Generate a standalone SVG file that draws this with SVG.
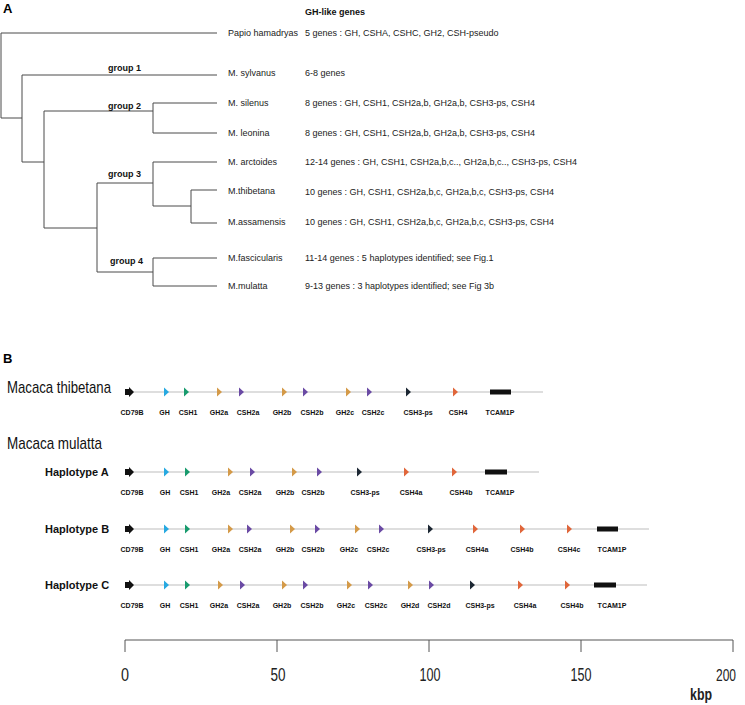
<svg xmlns="http://www.w3.org/2000/svg" xmlns:xlink="http://www.w3.org/1999/xlink" width="745" height="705" viewBox="0 0 745 705">
<style>
.tree{fill:none;stroke:#4a4a4a;stroke-width:1}
.sp{font-family:"Liberation Sans",Arial,sans-serif;font-size:9px;fill:#222}
.grp{font-family:"Liberation Sans",Arial,sans-serif;font-size:9px;font-weight:bold;fill:#111}
.panel{font-family:"Liberation Sans",Arial,sans-serif;font-size:13px;font-weight:bold;fill:#000}
.big{font-family:"Liberation Sans",Arial,sans-serif;font-size:17px;fill:#111}
.hap{font-family:"Liberation Sans",Arial,sans-serif;font-size:11px;font-weight:bold;fill:#111}
.gl{font-family:"Liberation Sans",Arial,sans-serif;font-size:7px;font-weight:bold;fill:#111;text-anchor:middle}
.trk{stroke:#bdbdbd;stroke-width:1}
.ax{stroke:#555;stroke-width:1;fill:none}
.num{font-family:"Liberation Sans",Arial,sans-serif;font-size:18px;fill:#222;text-anchor:middle}
.gh{fill:#27a9e1}.csh1{fill:#189b6e}.gh2{fill:#d49a48}.csh2{fill:#6a4aa4}.csh3{fill:#1c2733}.csh4{fill:#e0663a}.blk{fill:#111}
</style>
<defs>
<path id="tri" d="M0,-4.5 L5,0 L0,4.5 Z"/>
<path id="cd" d="M0,-3 H4 V-5 L9,0 L4,5 V3 H0 Z"/>
</defs>

<!-- Panel A -->
<text class="panel" x="3" y="13">A</text>
<text class="grp" x="305" y="15">GH-like genes</text>
<g id="tree" class="tree">
<path d="M1,33 V118 M1,33 H217 M1,118 H22"/>
<path d="M22,75 V162 M22,75 H217 M22,162 H44"/>
<path d="M44,111 V228 M44,111 H153 M153,103 V133 M153,103 H217 M153,133 H217"/>
<path d="M44,228 H97 M97,183 V272 M97,183 H153 M153,162 V206 M153,162 H217 M153,206 H191 M191,190 V223 M191,190 H217 M191,223 H217"/>
<path d="M97,272 H153 M153,258 V286 M153,258 H217 M153,286 H217"/>
</g>
<g id="groups">
<text class="grp" x="108" y="71">group 1</text>
<text class="grp" x="108" y="109">group 2</text>
<text class="grp" x="108" y="177">group 3</text>
<text class="grp" x="110" y="264">group 4</text>
</g>
<g id="taxa">
<text class="sp" x="228" y="36">Papio hamadryas</text>
<text class="sp" x="228" y="76">M. sylvanus</text>
<text class="sp" x="228" y="106">M. silenus</text>
<text class="sp" x="228" y="136">M. leonina</text>
<text class="sp" x="228" y="165">M. arctoides</text>
<text class="sp" x="228" y="194">M.thibetana</text>
<text class="sp" x="228" y="225">M.assamensis</text>
<text class="sp" x="228" y="261">M.fascicularis</text>
<text class="sp" x="228" y="289">M.mulatta</text>
</g>
<g id="genes">
<text class="sp" x="305" y="36">5 genes : GH, CSHA, CSHC, GH2, CSH-pseudo</text>
<text class="sp" x="305" y="76">6-8 genes</text>
<text class="sp" x="305" y="106">8 genes : GH, CSH1, CSH2a,b, GH2a,b, CSH3-ps, CSH4</text>
<text class="sp" x="305" y="136">8 genes : GH, CSH1, CSH2a,b, GH2a,b, CSH3-ps, CSH4</text>
<text class="sp" x="305" y="165">12-14 genes : GH, CSH1, CSH2a,b,c.., GH2a,b,c.., CSH3-ps, CSH4</text>
<text class="sp" x="305" y="195">10 genes : GH, CSH1, CSH2a,b,c, GH2a,b,c, CSH3-ps, CSH4</text>
<text class="sp" x="305" y="225">10 genes : GH, CSH1, CSH2a,b,c, GH2a,b,c, CSH3-ps, CSH4</text>
<text class="sp" x="305" y="261">11-14 genes : 5 haplotypes identified; see Fig.1</text>
<text class="sp" x="305" y="289">9-13 genes : 3 haplotypes identified; see Fig 3b</text>
</g>

<!-- Panel B -->
<text class="panel" x="3" y="363">B</text>
<text class="big" x="7" y="393" textLength="104" lengthAdjust="spacingAndGlyphs">Macaca thibetana</text>
<text class="big" x="7" y="449" textLength="95" lengthAdjust="spacingAndGlyphs">Macaca mulatta</text>

<g id="track-thibetana">
<line class="trk" x1="125" y1="392" x2="543" y2="392"/>
<use href="#cd" x="125" y="392" class="blk"/>
<use href="#tri" x="164" y="392" class="gh"/>
<use href="#tri" x="184" y="392" class="csh1"/>
<use href="#tri" x="217" y="392" class="gh2"/>
<use href="#tri" x="239" y="392" class="csh2"/>
<use href="#tri" x="282" y="392" class="gh2"/>
<use href="#tri" x="303" y="392" class="csh2"/>
<use href="#tri" x="346" y="392" class="gh2"/>
<use href="#tri" x="367" y="392" class="csh2"/>
<use href="#tri" x="406" y="392" class="csh3"/>
<use href="#tri" x="453" y="392" class="csh4"/>
<rect x="490" y="389.5" width="21" height="5" class="blk"/>
<text class="gl" x="132" y="414.5">CD79B</text>
<text class="gl" x="164.5" y="414.5">GH</text>
<text class="gl" x="188" y="414.5">CSH1</text>
<text class="gl" x="219" y="414.5">GH2a</text>
<text class="gl" x="248" y="414.5">CSH2a</text>
<text class="gl" x="282" y="414.5">GH2b</text>
<text class="gl" x="312" y="414.5">CSH2b</text>
<text class="gl" x="345" y="414.5">GH2c</text>
<text class="gl" x="373" y="414.5">CSH2c</text>
<text class="gl" x="418" y="414.5">CSH3-ps</text>
<text class="gl" x="458" y="414.5">CSH4</text>
<text class="gl" x="500" y="414.5">TCAM1P</text>
</g>

<g id="track-hapA">
<text class="hap" x="45" y="476">Haplotype A</text>
<line class="trk" x1="125" y1="472" x2="539" y2="472"/>
<use href="#cd" x="125" y="472" class="blk"/>
<use href="#tri" x="164" y="472" class="gh"/>
<use href="#tri" x="185" y="472" class="csh1"/>
<use href="#tri" x="228" y="472" class="gh2"/>
<use href="#tri" x="250" y="472" class="csh2"/>
<use href="#tri" x="292" y="472" class="gh2"/>
<use href="#tri" x="317" y="472" class="csh2"/>
<use href="#tri" x="357" y="472" class="csh3"/>
<use href="#tri" x="404" y="472" class="csh4"/>
<use href="#tri" x="452" y="472" class="csh4"/>
<rect x="485" y="469.5" width="22" height="5" class="blk"/>
<text class="gl" x="132" y="494.5">CD79B</text>
<text class="gl" x="165" y="494.5">GH</text>
<text class="gl" x="189" y="494.5">CSH1</text>
<text class="gl" x="221" y="494.5">GH2a</text>
<text class="gl" x="250" y="494.5">CSH2a</text>
<text class="gl" x="285" y="494.5">GH2b</text>
<text class="gl" x="313" y="494.5">CSH2b</text>
<text class="gl" x="365" y="494.5">CSH3-ps</text>
<text class="gl" x="411" y="494.5">CSH4a</text>
<text class="gl" x="461" y="494.5">CSH4b</text>
<text class="gl" x="500" y="494.5">TCAM1P</text>
</g>

<g id="track-hapB">
<text class="hap" x="45" y="533">Haplotype B</text>
<line class="trk" x1="125" y1="529" x2="649" y2="529"/>
<use href="#cd" x="125" y="529" class="blk"/>
<use href="#tri" x="164" y="529" class="gh"/>
<use href="#tri" x="185" y="529" class="csh1"/>
<use href="#tri" x="228" y="529" class="gh2"/>
<use href="#tri" x="247" y="529" class="csh2"/>
<use href="#tri" x="290" y="529" class="gh2"/>
<use href="#tri" x="315" y="529" class="csh2"/>
<use href="#tri" x="355" y="529" class="gh2"/>
<use href="#tri" x="379" y="529" class="csh2"/>
<use href="#tri" x="428" y="529" class="csh3"/>
<use href="#tri" x="473" y="529" class="csh4"/>
<use href="#tri" x="520" y="529" class="csh4"/>
<use href="#tri" x="567" y="529" class="csh4"/>
<rect x="597" y="526.5" width="21" height="5" class="blk"/>
<text class="gl" x="132" y="551.5">CD79B</text>
<text class="gl" x="165" y="551.5">GH</text>
<text class="gl" x="189" y="551.5">CSH1</text>
<text class="gl" x="221" y="551.5">GH2a</text>
<text class="gl" x="250" y="551.5">CSH2a</text>
<text class="gl" x="285" y="551.5">GH2b</text>
<text class="gl" x="313" y="551.5">CSH2b</text>
<text class="gl" x="349" y="551.5">GH2c</text>
<text class="gl" x="378" y="551.5">CSH2c</text>
<text class="gl" x="431" y="551.5">CSH3-ps</text>
<text class="gl" x="477" y="551.5">CSH4a</text>
<text class="gl" x="522" y="551.5">CSH4b</text>
<text class="gl" x="569" y="551.5">CSH4c</text>
<text class="gl" x="612" y="551.5">TCAM1P</text>
</g>

<g id="track-hapC">
<text class="hap" x="45" y="589">Haplotype C</text>
<line class="trk" x1="125" y1="585" x2="647" y2="585"/>
<use href="#cd" x="125" y="585" class="blk"/>
<use href="#tri" x="164" y="585" class="gh"/>
<use href="#tri" x="185" y="585" class="csh1"/>
<use href="#tri" x="218" y="585" class="gh2"/>
<use href="#tri" x="240" y="585" class="csh2"/>
<use href="#tri" x="282" y="585" class="gh2"/>
<use href="#tri" x="303" y="585" class="csh2"/>
<use href="#tri" x="347" y="585" class="gh2"/>
<use href="#tri" x="368" y="585" class="csh2"/>
<use href="#tri" x="408" y="585" class="gh2"/>
<use href="#tri" x="429" y="585" class="csh2"/>
<use href="#tri" x="470" y="585" class="csh3"/>
<use href="#tri" x="518" y="585" class="csh4"/>
<use href="#tri" x="565" y="585" class="csh4"/>
<rect x="594" y="582.5" width="22" height="5" class="blk"/>
<text class="gl" x="132" y="607.5">CD79B</text>
<text class="gl" x="165" y="607.5">GH</text>
<text class="gl" x="189" y="607.5">CSH1</text>
<text class="gl" x="219" y="607.5">GH2a</text>
<text class="gl" x="248" y="607.5">CSH2a</text>
<text class="gl" x="282" y="607.5">GH2b</text>
<text class="gl" x="312" y="607.5">CSH2b</text>
<text class="gl" x="346" y="607.5">GH2c</text>
<text class="gl" x="376" y="607.5">CSH2c</text>
<text class="gl" x="410" y="607.5">GH2d</text>
<text class="gl" x="439" y="607.5">CSH2d</text>
<text class="gl" x="480" y="607.5">CSH3-ps</text>
<text class="gl" x="525" y="607.5">CSH4a</text>
<text class="gl" x="572" y="607.5">CSH4b</text>
<text class="gl" x="612" y="607.5">TCAM1P</text>
</g>

<g id="axis">
<path class="ax" d="M125,640 H733 M125,640 V652 M277,640 V652 M429,640 V652 M581,640 V652 M733,640 V652"/>
<text class="num" x="125" y="681" textLength="8" lengthAdjust="spacingAndGlyphs">0</text>
<text class="num" x="278" y="681" textLength="15" lengthAdjust="spacingAndGlyphs">50</text>
<text class="num" x="430" y="681" textLength="21" lengthAdjust="spacingAndGlyphs">100</text>
<text class="num" x="581" y="681" textLength="21" lengthAdjust="spacingAndGlyphs">150</text>
<text class="num" x="726" y="681" style="font-size:17px" textLength="20" lengthAdjust="spacingAndGlyphs">200</text>
<text class="num" x="701" y="700" style="font-weight:bold;font-size:16px" textLength="22" lengthAdjust="spacingAndGlyphs">kbp</text>
</g>
</svg>
